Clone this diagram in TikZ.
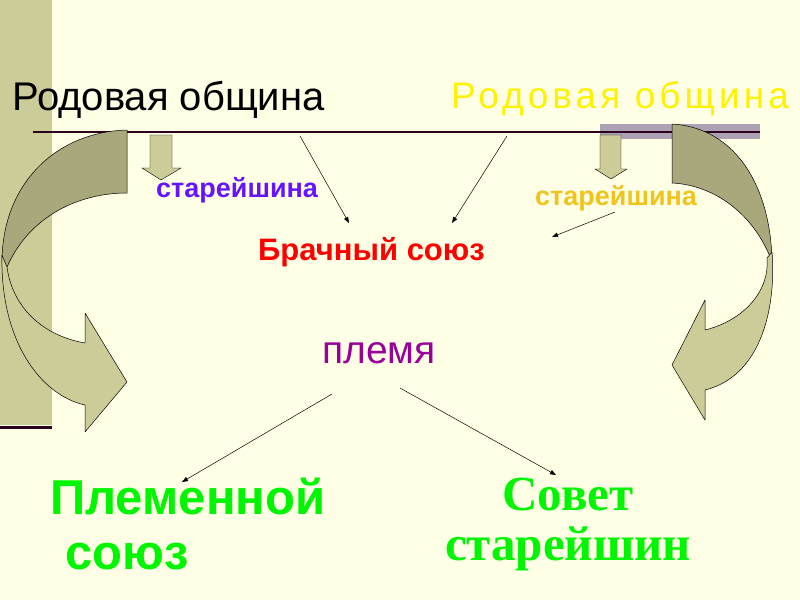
\documentclass[tikz,border=0pt]{standalone}
\usepackage{fontspec}
\setmainfont{Liberation Sans}
\newfontfamily\spacedsans[LetterSpace=11]{Liberation Sans}
\newfontfamily\timesfont{Liberation Serif}
\usepackage{xcolor}
\usetikzlibrary{positioning, arrows.meta, calc}

\definecolor{slidebg}{RGB}{255,255,230}
\definecolor{khaki}{RGB}{204,204,153}
\definecolor{khakidark}{RGB}{168,168,124}
\definecolor{rulecol}{RGB}{45,0,30}
\definecolor{greybar}{RGB}{172,162,180}
\definecolor{elderblue}{RGB}{102,20,255}
\definecolor{eldergold}{RGB}{240,196,30}
\definecolor{tribepurple}{RGB}{153,0,153}
\definecolor{brightgreen}{RGB}{0,245,0}

\begin{document}
\begin{tikzpicture}[x=1pt, y=-1pt,
	txt/.style={inner sep=0pt, anchor=base west},
	thinarrow/.style={-{Triangle[length=6pt,width=4.5pt]}, line width=0.5pt},
	shapeline/.style={draw=black, line width=0.5pt, line join=round},
	blockdown/.style={fill=khaki, draw=black, line width=0.4pt}]
	\useasboundingbox (0,0) rectangle (800,600);
	\fill[slidebg] (0,0) rectangle (800,600);
	
	% Slide decoration
	\fill[khaki] (0,0) rectangle (52,425);
	\draw[rulecol, line width=3pt] (0,427) -- (52,427);
	\fill[greybar] (600,124) rectangle (760,139);
	\draw[rulecol, line width=2.5pt] (33,132) -- (760,132);
	
	% Curved arrows
	\path[shapeline, fill=khakidark] (127,130) .. controls (55,132) and (2,185) .. (2,262)
		-- (7,267) .. controls (30,215) and (80,193) .. (127,193) -- cycle;
	\path[shapeline, fill=khaki] (2,255) .. controls (0,340) and (40,395) .. (85,405)
		-- (85,432) -- (127,382) -- (85,313) -- (85,343)
		.. controls (40,335) and (12,305) .. (7,267) -- cycle;
	
	\path[shapeline, fill=khakidark] (672,124) .. controls (738,128) and (771,190) .. (772,262)
		.. controls (755,215) and (715,185) .. (672,183) -- cycle;
	\path[shapeline, fill=khaki] (772,252) .. controls (776,300) and (765,375) .. (705,390)
		-- (705,420) -- (672,365) -- (705,300) -- (705,330)
		.. controls (745,320) and (770,290) .. (767,258) -- cycle;
	
	% Small block arrows
	\path[blockdown] (150,135) -- (172,135) -- (172,168) -- (181,168) -- (161,180)
		-- (142,168) -- (150,168) -- cycle;
	\path[blockdown] (600,135) -- (621,135) -- (621,169) -- (627,169) -- (611,179)
		-- (595,169) -- (600,169) -- cycle;
	
	% Texts
	\node[txt, font=\fontsize{40}{42}\selectfont] (rod1) at (12,110) {Родовая община};
	\node[txt, font=\spacedsans\fontsize{37}{39}\selectfont, text=yellow] (rod2) at (451,108) {Родовая община};
	\node[txt, font=\bfseries\fontsize{27}{30}\selectfont, text=elderblue] (star1) at (156,197) {старейшина};
	\node[txt, font=\bfseries\fontsize{27}{30}\selectfont, text=eldergold] (star2) at (535,205) {старейшина};
	\node[txt, font=\bfseries\fontsize{31}{34}\selectfont, text=red] (brak) at (258,260) {Брачный союз};
	\node[txt, font=\fontsize{39}{41}\selectfont, text=tribepurple] (plem) at (322,363) {племя};
	\node[inner sep=0pt, anchor=north west, align=left, font=\bfseries\fontsize{49}{55}\selectfont,
		text=brightgreen] (plsoyuz) at (50,478) {Племенной\\\hspace*{15pt}союз};
	\node[inner sep=0pt, anchor=north, align=center, font=\timesfont\bfseries\fontsize{49}{50}\selectfont,
		text=brightgreen] (sovet) at (568,478) {Совет\\старейшин};
	
	% Arrows
	\coordinate (a1s) at (300,136);
	\coordinate (a1e) at (349,223);
	\coordinate (a2s) at (507,136);
	\coordinate (a2e) at (452,223);
	\coordinate (a3s) at (615,212);
	\coordinate (a3e) at (552,237);
	\coordinate (a4s) at (332,394);
	\coordinate (a4e) at (182,482);
	\coordinate (a5s) at (400,388);
	\coordinate (a5e) at (556,475);
	\draw[thinarrow] (a1s) -- (a1e);
	\draw[thinarrow] (a2s) -- (a2e);
	\draw[thinarrow] (a3s) -- (a3e);
	\draw[thinarrow] (a4s) -- (a4e);
	\draw[thinarrow] (a5s) -- (a5e);
\end{tikzpicture}
\end{document}
